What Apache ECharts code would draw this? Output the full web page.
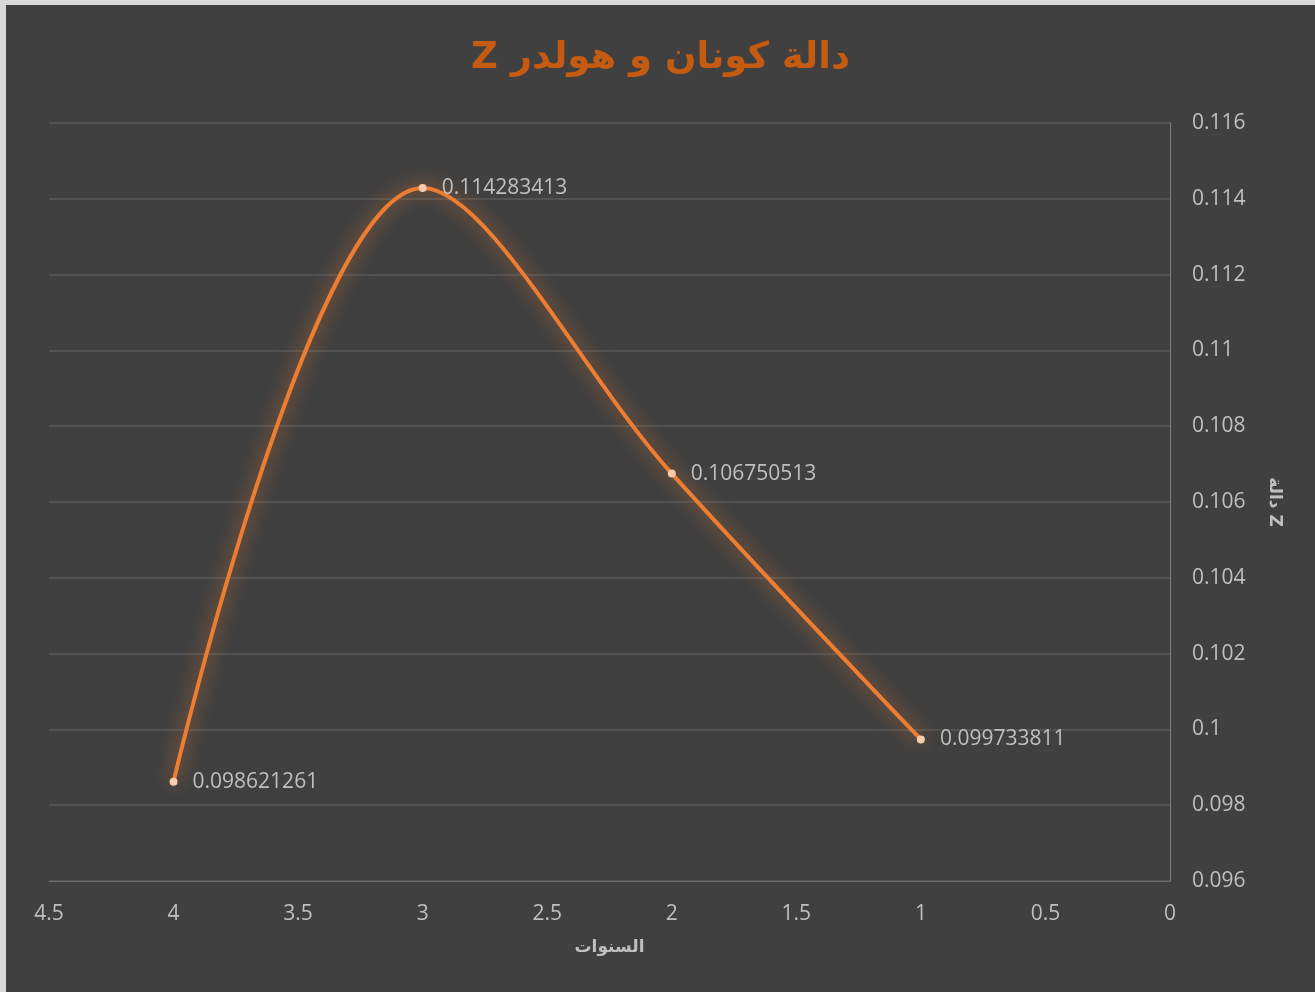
<!DOCTYPE html>
<html>
<head>
<meta charset="utf-8">
<script src="https://cdn.jsdelivr.net/npm/echarts@6/dist/echarts.min.js"></script>
<style>
  html, body { margin: 0; padding: 0; background: #d9d9d9; }
  #main { position: absolute; left: 6px; top: 5px; width: 1309px; height: 987px; }
</style>
</head>
<body>
<div id="main"></div>
<script>
// السنوات (x) و قيم دالة Z (y)
const years = [4, 3, 2, 1];
const zValues = [0.098621261, 0.114283413, 0.106750513, 0.099733811];
const xTicks = [0, 0.5, 1, 1.5, 2, 2.5, 3, 3.5, 4, 4.5];
const yTicks = [0.096, 0.098, 0.1, 0.102, 0.104, 0.106, 0.108, 0.11, 0.112, 0.114, 0.116];

const labelColor = "#bfbfbf";
const numFont = "'Open Sans', 'Noto Sans', sans-serif";

const chart = echarts.init(document.getElementById("main"));
chart.setOption({
  backgroundColor: "#404040",
  title: {
    text: "\u202Bدالة كونان و هولدر Z\u202C",
    left: "center",
    top: 30,
    textStyle: {
      color: "#c55a11",
      fontSize: 37,
      fontWeight: "bold",
      fontFamily: "'DejaVu Sans', sans-serif",
    },
  },
  grid: {
    left: 43,
    right: 145,
    top: 118,
    bottom: 111,
  },
  xAxis: {
    type: "value",
    inverse: true,
    min: xTicks[0],
    max: xTicks[xTicks.length - 1],
    interval: 0.5,
    name: "السنوات",
    nameLocation: "middle",
    nameGap: 58,
    nameTextStyle: {
      color: labelColor,
      fontSize: 17,
      fontWeight: "bold",
      fontFamily: "'DejaVu Sans', sans-serif",
    },
    axisLine: { show: true, lineStyle: { color: "#6e6e6e", width: 1 } },
    axisTick: { show: false },
    splitLine: { show: false },
    axisLabel: {
      color: labelColor,
      fontSize: 21,
      fontFamily: numFont,
      margin: 23,
    },
  },
  yAxis: {
    type: "value",
    position: "right",
    min: yTicks[0],
    max: yTicks[yTicks.length - 1],
    interval: 0.002,
    name: "دالة Z",
    nameLocation: "middle",
    nameRotate: -90,
    nameGap: 96,
    nameTextStyle: {
      color: labelColor,
      fontSize: 17,
      fontWeight: "bold",
      fontFamily: "'DejaVu Sans', sans-serif",
    },
    axisLine: { show: true, lineStyle: { color: "#7f7f7f", width: 1 } },
    axisTick: { show: false },
    splitLine: { show: true, lineStyle: { color: "#5a5a5a", width: 1.5 } },
    axisLabel: {
      color: labelColor,
      fontSize: 21,
      fontFamily: numFont,
      margin: 22,
      formatter: (v) => String(+v.toFixed(3)),
    },
  },
  series: [
    {
      type: "line",
      data: years.map((x, i) => [x, zValues[i]]),
      smooth: 0.35,
      symbol: "circle",
      symbolSize: 8,
      itemStyle: { color: "#f8cbad" },
      lineStyle: {
        color: "#ed7d31",
        width: 4,
        shadowColor: "rgba(237,125,49,0.85)",
        shadowBlur: 18,
      },
      label: {
        show: true,
        position: "right",
        distance: 15,
        color: labelColor,
        fontSize: 21,
        fontFamily: numFont,
        formatter: (p) => String(p.value[1]),
      },
    },
  ],
});
</script>
</body>
</html>
